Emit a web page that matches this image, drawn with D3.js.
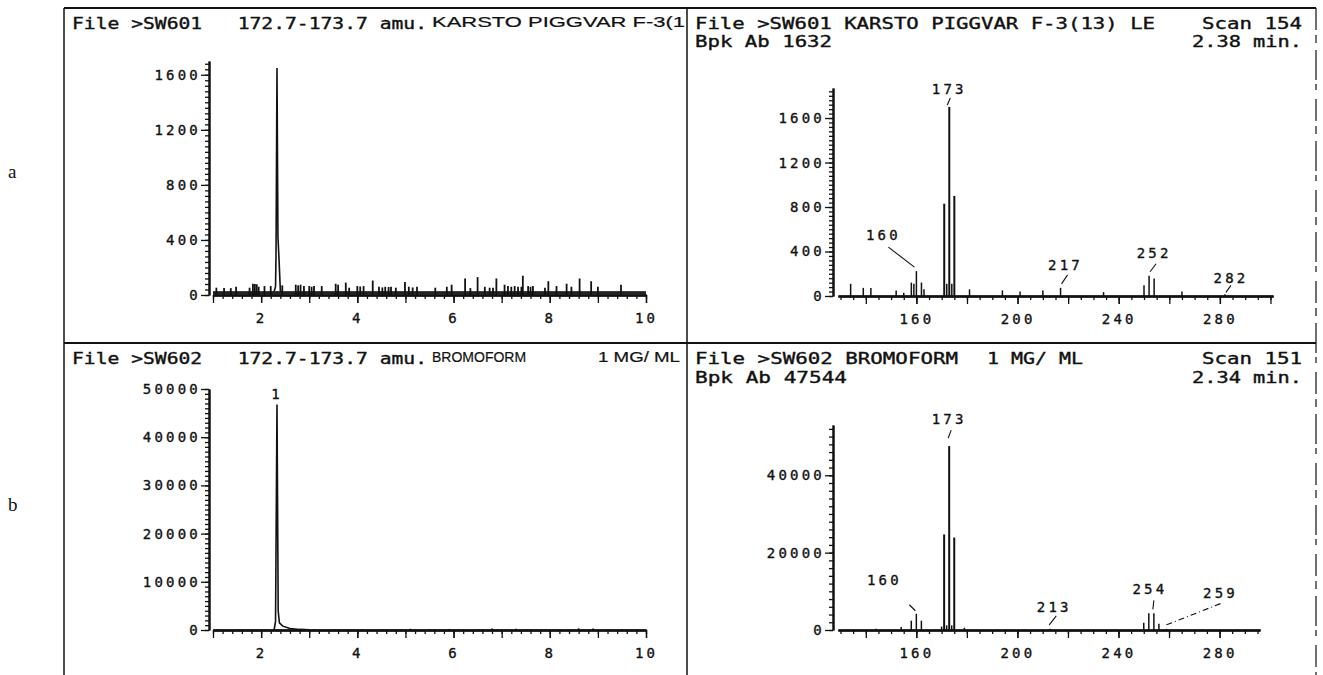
<!DOCTYPE html>
<html>
<head>
<meta charset="utf-8">
<script src="https://cdn.jsdelivr.net/npm/d3@7"></script>
<style>
  body { margin: 0; background: #fff; }
  svg text { font-family: "DejaVu Sans Mono", monospace; font-size: 14px; fill: #111; letter-spacing: 3.2px;
    stroke: #111; stroke-width: 0.35px; }
  svg text.title { font-size: 15px; letter-spacing: 0; }
  svg text.sans { font-family: "Liberation Sans", Arial, sans-serif; font-size: 14px; letter-spacing: 0; stroke-width: 0.2px; }
  svg text.side { font-family: "Liberation Serif", serif; font-size: 19px; letter-spacing: 0; stroke-width: 0; }
</style>
</head>
<body>
<svg id="chart" width="1323" height="675"></svg>
<script>
// ---- data ----

// chromatogram a (m/z 172.7-173.7), [time in min, abundance]
const chromAPeak = [[2.27, 25], [2.30, 60], [2.31, 300], [2.33, 1650], [2.35, 420], [2.37, 280], [2.40, 30], [2.42, 25]];
const chromANoise = [
  [1.07, 53], [1.23, 50], [1.37, 50], [1.48, 60], [1.76, 53], [1.83, 82], [1.87, 80], [1.91, 78], [1.95, 60],
  [2.07, 65], [2.2, 65], [2.44, 70], [2.72, 75], [2.77, 70], [2.82, 75], [2.89, 65], [3.0, 65], [3.05, 60],
  [3.1, 65], [3.26, 65], [3.55, 82], [3.6, 75], [3.76, 90], [3.83, 53], [4.0, 65], [4.06, 62], [4.13, 65],
  [4.32, 105], [4.45, 60], [4.52, 55], [4.58, 60], [4.65, 58], [4.7, 60], [4.8, 53], [4.99, 95], [5.07, 60],
  [5.15, 55], [5.24, 60], [5.62, 53], [5.86, 60], [5.96, 75], [6.24, 120], [6.35, 50], [6.5, 130], [6.65, 60],
  [6.75, 53], [6.82, 53], [6.89, 120], [7.06, 75], [7.13, 65], [7.2, 60], [7.27, 65], [7.34, 60], [7.41, 60],
  [7.44, 140], [7.55, 65], [7.6, 60], [7.65, 65], [7.9, 53], [7.97, 100], [8.14, 65], [8.35, 82], [8.45, 60],
  [8.62, 120], [8.86, 100], [9.0, 60], [9.48, 75]
];

// chromatogram b (bromoform standard)
const chromBPeak = [[2.27, 0], [2.30, 1800], [2.33, 46800], [2.355, 4000], [2.38, 1500], [2.45, 800], [2.6, 300], [2.8, 120], [3.0, 60]];
const chromBNoise = [[5.1, 250], [5.5, 200], [5.9, 200], [6.8, 300], [7.3, 250], [8.6, 350], [8.9, 300], [9.5, 200]];

// mass spectra, [m/z, abundance]
const specA = [
  [134, 110], [139, 73], [142, 73], [152, 50], [155, 30], [158, 120], [159, 110], [160, 224], [162, 121], [163, 60],
  [171, 830], [172, 110], [173, 1700], [174, 110], [175, 900], [181, 60], [194, 50], [201, 40], [210, 50],
  [217, 73], [234, 35], [250, 97], [252, 182], [254, 158], [265, 40], [282, 15]
];
const specB = [
  [144, 300], [154, 800], [158, 2400], [160, 4200], [162, 2400], [170, 900], [171, 24700], [172, 1200],
  [173, 47544], [174, 1200], [175, 23900], [179, 600], [213, 300], [250, 1900], [252, 4300], [254, 4300],
  [256, 1600], [259, 300]
];
const labelsA = [160, 173, 217, 252, 282];
const labelsB = [160, 173, 213, 254, 259];

// tick values
const timeLabels = [2, 4, 6, 8, 10];
const massLabels = [160, 200, 240, 280];
const yTicksA = [0, 400, 800, 1200, 1600];
const yTicksB = [0, 10000, 20000, 30000, 40000, 50000];
const yTicksSpecB = [0, 20000, 40000];

const svg = d3.select('#chart');

// ---- frame ----
const frame = svg.append('g').attr('stroke', '#111').attr('fill', 'none');
frame.append('line').attr('x1', 64).attr('y1', 8).attr('x2', 1316).attr('y2', 8).attr('stroke-width', 2);
frame.append('line').attr('x1', 64).attr('y1', 343).attr('x2', 1316).attr('y2', 343).attr('stroke-width', 2);
frame.append('line').attr('x1', 64).attr('y1', 8).attr('x2', 64).attr('y2', 675).attr('stroke-width', 1.5);
frame.append('line').attr('x1', 687).attr('y1', 8).attr('x2', 687).attr('y2', 675).attr('stroke-width', 1.5);
frame.append('line').attr('x1', 1316).attr('y1', 8).attr('x2', 1316).attr('y2', 675)
  .attr('stroke-width', 1.2).attr('stroke-dasharray', '22,5,8,7,30,4,6,9');

svg.append('text').attr('class', 'side').attr('x', 8).attr('y', 178).text('a');
svg.append('text').attr('class', 'side').attr('x', 8).attr('y', 511).text('b');

// ---- titles ----
function title(x, y, str, len, cls, anchor) {
  const t = svg.append('text')
    .attr('class', cls || 'title')
    .attr('x', x).attr('y', y)
    .attr('text-anchor', anchor || 'start')
    .style('white-space', 'pre')
    .text(str);
  if (len) t.attr('textLength', len).attr('lengthAdjust', 'spacingAndGlyphs');
}
title(72, 29, 'File >SW601   172.7-173.7 amu.', 355);
title(432, 27, 'KARSTO PIGGVAR F-3(1', 253, 'sans');
title(695, 29, 'File >SW601 KARSTO PIGGVAR F-3(13) LE', 460);
title(1302, 29, 'Scan 154', 100, 'title', 'end');
title(695, 47, 'Bpk Ab 1632', 137);
title(1302, 47, '2.38 min.', 110, 'title', 'end');

title(72, 364, 'File >SW602   172.7-173.7 amu.', 355);
title(432, 362, 'BROMOFORM', null, 'sans');
title(598, 362, '1 MG/ ML', 82, 'sans');
title(695, 364, 'File >SW602 BROMOFORM', 263);
title(987, 364, '1 MG/ ML', 96);
title(1302, 364, 'Scan 151', 100, 'title', 'end');
title(695, 383, 'Bpk Ab 47544', 152);
title(1302, 383, '2.34 min.', 110, 'title', 'end');

// ---- axes ----
function axes(p) {
  const g = svg.append('g');
  const xg = g.append('g').attr('transform', `translate(0,${p.y(0)})`);
  xg.append('g').call(d3.axisBottom(p.x).tickValues(p.xMinor).tickSize(4).tickFormat('').tickSizeOuter(0));
  xg.append('g').call(d3.axisBottom(p.x).tickValues(p.xMajor).tickSize(8).tickFormat('').tickSizeOuter(0));
  xg.append('g').call(d3.axisBottom(p.x).tickValues(p.xLabels).tickSize(8).tickPadding(10)
    .tickFormat(d3.format('d')).tickSizeOuter(0));

  const yg = g.append('g').attr('transform', `translate(${p.ax},0)`);
  yg.append('g').call(d3.axisLeft(p.y).tickValues(p.yMinor).tickSize(4).tickFormat('').tickSizeOuter(0));
  yg.append('g').call(d3.axisLeft(p.y).tickValues(p.yLabels).tickSize(8).tickPadding(0)
    .tickFormat(d3.format('d')).tickSizeOuter(0));

  g.selectAll('.domain').attr('stroke', '#111').attr('stroke-width', 2);
  g.selectAll('.tick line').attr('stroke', '#111').attr('stroke-width', 1.3);
  g.selectAll('.tick text').attr('fill', '#111');
  return g;
}

// chromatogram panels
const xTimeA = d3.scaleLinear().domain([1, 10]).range([213, 646]);
const yA = d3.scaleLinear().domain([0, 1700]).range([295, 61]);
const xTimeB = d3.scaleLinear().domain([1, 10]).range([213, 646]);
const yB = d3.scaleLinear().domain([0, 50000]).range([630, 389]);

const timeMinor = d3.range(1, 10.01, 0.2);
const timeMajor = d3.range(1, 11, 1);

axes({ x: xTimeA, y: yA, ax: 209, xMinor: timeMinor, xMajor: timeMajor, xLabels: timeLabels,
  yMinor: d3.range(0, 1700, 40), yLabels: yTicksA });
axes({ x: xTimeB, y: yB, ax: 209, xMinor: timeMinor, xMajor: timeMajor, xLabels: timeLabels,
  yMinor: d3.range(0, 50001, 1000), yLabels: yTicksB });

function trace(x, y, peak, noise, floor) {
  const g = svg.append('g').attr('stroke', '#111').attr('fill', 'none');
  // noise floor hugging the axis
  g.append('rect')
    .attr('x', x(1)).attr('y', y(floor))
    .attr('width', x(10) - x(1)).attr('height', y(0) - y(floor))
    .attr('fill', '#222').attr('stroke', 'none');
  g.selectAll('line.spike')
    .data(noise)
    .join('line')
    .attr('class', 'spike')
    .attr('x1', (d) => x(d[0])).attr('x2', (d) => x(d[0]))
    .attr('y1', y(0)).attr('y2', (d) => y(d[1]))
    .attr('stroke-width', 1.8);
  g.append('path')
    .attr('d', d3.line().x((d) => x(d[0])).y((d) => y(d[1]))(peak))
    .attr('stroke-width', 1.6);
}
trace(xTimeA, yA, chromAPeak, chromANoise, 28);
trace(xTimeB, yB, chromBPeak, chromBNoise, 120);

svg.append('text').attr('x', xTimeB(2.33)).attr('y', 399).attr('text-anchor', 'middle').text('1');

// spectrum panels
const xMassA = d3.scaleLinear().domain([129, 301]).range([838, 1273]);
const ySpecA = d3.scaleLinear().domain([0, 1870]).range([296, 88]);
const xMassB = d3.scaleLinear().domain([129, 296]).range([838, 1260]);
const ySpecB = d3.scaleLinear().domain([0, 53000]).range([630, 425]);

axes({ x: xMassA, y: ySpecA, ax: 833, xMinor: d3.range(130, 301, 5), xMajor: d3.range(140, 301, 20),
  xLabels: massLabels, yMinor: d3.range(0, 1870, 40), yLabels: yTicksA });
axes({ x: xMassB, y: ySpecB, ax: 833, xMinor: d3.range(130, 296, 5), xMajor: d3.range(140, 296, 20),
  xLabels: massLabels, yMinor: d3.range(0, 53000, 2000), yLabels: yTicksSpecB });

function bars(x, y, data) {
  svg.append('g')
    .selectAll('line')
    .data(data)
    .join('line')
    .attr('x1', (d) => x(d[0])).attr('x2', (d) => x(d[0]))
    .attr('y1', y(0)).attr('y2', (d) => y(d[1]))
    .attr('stroke', '#111')
    .attr('stroke-width', (d) => (d[1] > y.domain()[1] * 0.3 ? 2 : 1.5));
}
bars(xMassA, ySpecA, specA);
bars(xMassB, ySpecB, specB);

// peak annotations: text offset (dx, dy) and leader line from/to, relative to the peak top
const annA = {
  160: { t: [-33, -31], l: [[-2, -4], [-28, -24]] },
  173: { t: [0, -13], l: [[-2, -2], [1, -9]] },
  217: { t: [5, -18], l: [[1, -4], [7, -13]] },
  252: { t: [5, -18], l: [[1, -4], [7, -12]] },
  282: { t: [6, -11], l: [[1, -2], [6, -9]] }
};
const annB = {
  160: { t: [-32, -29], l: [[-1, -3], [-7, -9]] },
  173: { t: [0, -22], l: [[-1, -8], [2, -16]] },
  213: { t: [4, -17], l: [[-1, -4], [6, -13]] },
  254: { t: [-4, -19], l: [[-1, -4], [0, -13]] },
  259: { t: [54, -31], l: [[0, -4], [56, -26]], dash: true }
};

function annotate(x, y, data, labels, ann) {
  const g = svg.append('g');
  labels.forEach((m) => {
    const pk = data.find((d) => d[0] === m);
    const px = x(m);
    const py = y(pk[1]);
    const a = ann[m];
    g.append('text')
      .attr('x', px + a.t[0]).attr('y', py + a.t[1])
      .attr('text-anchor', 'middle')
      .text(m);
    g.append('line')
      .attr('x1', px + a.l[0][0]).attr('y1', py + a.l[0][1])
      .attr('x2', px + a.l[1][0]).attr('y2', py + a.l[1][1])
      .attr('stroke', '#111').attr('stroke-width', 1.1)
      .attr('stroke-dasharray', a.dash ? '6,3,1,3' : null);
  });
}
annotate(xMassA, ySpecA, specA, labelsA, annA);
annotate(xMassB, ySpecB, specB, labelsB, annB);
</script>
</body>
</html>
